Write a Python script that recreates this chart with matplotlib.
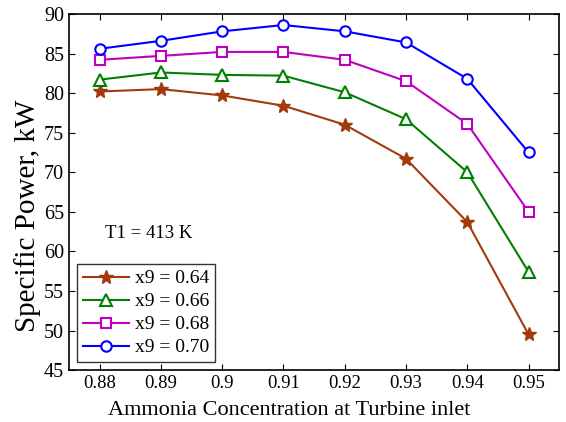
import numpy as np
import matplotlib.pyplot as plt

plt.rcParams['font.family'] = ['Liberation Serif', 'DejaVu Serif']

# ammonia concentration at turbine inlet
conc = [0.88, 0.89, 0.90, 0.91, 0.92, 0.93, 0.94, 0.95]

# specific power (kW) for each x9
p_064 = [80.2, 80.5, 79.7, 78.4, 76.0, 71.7, 63.7, 49.5]
p_066 = [81.7, 82.6, 82.3, 82.2, 80.1, 76.7, 70.0, 57.4]
p_068 = [84.2, 84.7, 85.2, 85.2, 84.2, 81.5, 76.1, 65.0]
p_070 = [85.6, 86.6, 87.8, 88.6, 87.8, 86.4, 81.8, 72.5]

labels = ['x9 = 0.64', 'x9 = 0.66', 'x9 = 0.68', 'x9 = 0.70']
xticks = ['0.88', '0.89', '0.9', '0.91', '0.92', '0.93', '0.94', '0.95']

fig = plt.figure(figsize=(5.66, 4.22), dpi=100)
ax = fig.add_axes([0.122, 0.123, 0.866, 0.844])

ax.plot(conc, p_064, '-*', color='#A33A0B', lw=1.5, ms=10, label=labels[0])
ax.plot(conc, p_066, '-^', color='#008000', lw=1.5, ms=8, mfc='white', mew=1.5, label=labels[1])
ax.plot(conc, p_068, '-s', color='#C000C0', lw=1.5, ms=7.5, mfc='white', mew=1.5, label=labels[2])
ax.plot(conc, p_070, '-o', color='#0000FF', lw=1.5, ms=7.5, mfc='white', mew=1.5, label=labels[3])

ax.set_xlim(0.875, 0.955)
ax.set_ylim(45, 90)
ax.set_xticks(conc)
ax.set_xticklabels(xticks)
ax.set_yticks(np.arange(45, 91, 5))
ax.tick_params(direction='in', top=True, right=True, length=4)
ax.tick_params(axis='x', labelsize=13.5)
ax.tick_params(axis='y', labelsize=14.5)
for s in ax.spines.values():
    s.set_linewidth(1.2)

ax.set_xlabel('Ammonia Concentration at Turbine inlet', fontsize=16)
ax.xaxis.set_label_coords(0.449, -0.087)
ax.set_ylabel('Specific Power, kW', fontsize=21)
ax.yaxis.set_label_coords(-0.058, 0.433)
ax.text(0.8808, 62.2, 'T1 = 413 K', fontsize=13.5, va='center')

leg = ax.legend(loc='lower left', fontsize=14, frameon=True, fancybox=False,
                edgecolor='black', handlelength=2.4, borderaxespad=0.4,
                handletextpad=0.3, labelspacing=0.28, borderpad=0.3)
leg.get_frame().set_linewidth(1.0)

plt.savefig('out.png', dpi=100)
